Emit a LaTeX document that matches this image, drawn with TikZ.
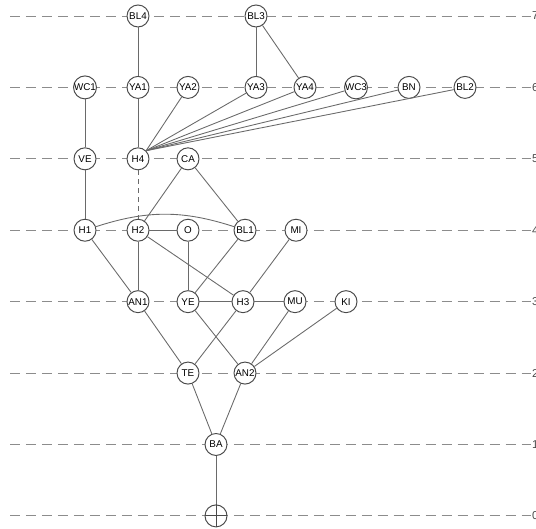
\documentclass[tikz,border=0pt]{standalone}
\usepackage{fontspec}
\setmainfont{Liberation Sans}
\usepackage{tikz}
\usetikzlibrary{positioning}
\definecolor{ink}{HTML}{4A4A4A}
\definecolor{edgec}{HTML}{6A6A6A}
\definecolor{guide}{HTML}{8C8C8C}

\begin{document}
\begin{tikzpicture}[x=0.02cm,y=1.4286cm,
  haplo/.style={circle,draw=ink,fill=white,line width=0.55pt,minimum size=0.44cm,inner sep=0pt,font=\fontsize{5.6}{6}\selectfont},
  link/.style={edgec,line width=0.5pt},
  lvl/.style={dashed,guide,line width=0.5pt,dash pattern=on 5.7pt off 3.4pt}]
\useasboundingbox (0,-0.182) rectangle (536,7.224);
% level guides with their numbers on the right
\foreach \k in {0,...,7} {
  \draw[lvl] (10,\k) -- (531,\k);
  \node[anchor=west,inner sep=0.5pt,text=ink,font=\fontsize{6.5}{7}\selectfont] (lab\k) at (531,\k) {\k};
}
% haplotypes, top level down
\node[haplo] (BL4) at (138,7) {BL4};
\node[haplo] (BL3) at (256,7) {BL3};
\node[haplo] (WC1) at (85,6) {WC1};
\node[haplo] (YA1) at (138,6) {YA1};
\node[haplo] (YA2) at (188,6) {YA2};
\node[haplo] (YA3) at (256,6) {YA3};
\node[haplo] (YA4) at (305,6) {YA4};
\node[haplo] (WC3) at (356,6) {WC3};
\node[haplo] (BN) at (409,6) {BN};
\node[haplo] (BL2) at (465,6) {BL2};
\node[haplo] (VE) at (85,5) {VE};
\node[haplo] (H4) at (138,5) {H4};
\node[haplo] (CA) at (188,5) {CA};
\node[haplo] (H1) at (85,4) {H1};
\node[haplo] (H2) at (138,4) {H2};
\node[haplo] (O) at (188,4) {O};
\node[haplo] (BL1) at (245,4) {BL1};
\node[haplo] (MI) at (296,4) {MI};
\node[haplo] (AN1) at (138,3) {AN1};
\node[haplo] (YE) at (188,3) {YE};
\node[haplo] (H3) at (243,3) {H3};
\node[haplo] (MU) at (295,3) {MU};
\node[haplo] (KI) at (346,3) {KI};
\node[haplo] (TE) at (188,2) {TE};
\node[haplo] (AN2) at (245,2) {AN2};
\node[haplo] (BA) at (216,1) {BA};
\node[haplo] (root) at (216,0) {};
% links
\draw[link] (BL4) -- (YA1);
\draw[link] (BL3) -- (YA3);
\draw[link] (BL3) -- (YA4);
\draw[link] (WC1) -- (VE) -- (H1);
\draw[link] (YA1) -- (H4);
\foreach \h in {YA2,YA3,YA4,WC3,BN,BL2} \draw[link] (\h) -- (H4.north east);
\draw[link,dashed,dash pattern=on 2.8pt off 2.3pt] (H4) -- (H2);
\draw[link] (CA) -- (H2);
\draw[link] (CA) -- (BL1);
\draw[link] (H1) to[bend left=18] (BL1);
\draw[link] (H2) -- (O);
\draw[link] (H1) -- (AN1);
\draw[link] (H2) -- (AN1);
\draw[link] (H2) -- (H3);
\draw[link] (O) -- (YE);
\draw[link] (BL1) -- (YE);
\draw[link] (MI) -- (H3);
\draw[link] (YE) -- (H3) -- (MU);
\draw[link] (AN1) -- (TE);
\draw[link] (H3) -- (TE);
\draw[link] (YE) -- (AN2);
\draw[link] (MU) -- (AN2);
\draw[link] (KI) -- (AN2);
\draw[link] (TE) -- (BA);
\draw[link] (AN2) -- (BA);
\draw[link] (BA) -- (root);
% cross in the root circle
\draw[ink,line width=0.5pt] (root.north) -- (root.south) (root.west) -- (root.east);
\end{tikzpicture}
\end{document}
